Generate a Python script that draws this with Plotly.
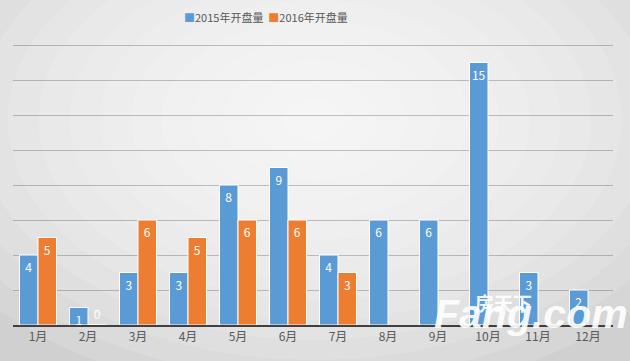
import plotly.graph_objects as go

months = ["1月", "2月", "3月", "4月", "5月", "6月", "7月", "8月", "9月", "10月", "11月", "12月"]
s2015 = [4, 1, 3, 3, 8, 9, 4, 6, 6, 15, 3, 2]
s2016 = [5, 0, 6, 5, 6, 6, 3, None, None, None, None, None]
names = ["2015年开盘量", "2016年开盘量"]
colors = ["#5B9BD5", "#ED7D31"]

W, H = 630, 361
L, R, T, B = 13, 17, 40, 36
pw, ph = W - L - R, H - T - B
YMAX = 16 * ph / 280.0

def px(x):
    return (x - L) / pw

def py(y):
    return (H - B - y) / ph

FONT = "Noto Sans CJK SC"

fig = go.Figure()
for name, vals, col in zip(names, [s2015, s2016], colors):
    pos = ["outside" if v == 0 else "inside" for v in vals]
    fig.add_trace(go.Bar(
        x=months, y=vals, name=name,
        marker=dict(color=col, line=dict(color="white", width=1)),
        text=[("" if v is None else str(v)) for v in vals],
        textposition=pos,
        insidetextanchor="end",
        constraintext="none",
        textangle=0,
        insidetextfont=dict(color="white", size=12, family=FONT),
        outsidetextfont=dict(color="white", size=12, family=FONT),
        cliponaxis=False,
        showlegend=False,
    ))

# background radial-ish gradient via stacked translucent ellipses
shapes = []
cx, cy = 315, 120
N = 14
for i in range(N):
    f = 1 - i / N
    rx, ry = 430 * f, 280 * f
    shapes.append(dict(type="circle", xref="paper", yref="paper", layer="below",
                       x0=px(cx - rx), x1=px(cx + rx), y0=py(cy + ry), y1=py(cy - ry),
                       fillcolor="rgba(255,255,255,0.13)", line=dict(width=0)))

legend_text = "  ".join(
    f"<span style='color:{c}'>■</span>{n}" for n, c in zip(names, colors)
)

fig.update_layout(
    width=W, height=H,
    margin=dict(l=L, r=R, t=T, b=B, autoexpand=False),
    paper_bgcolor="#d0d0d0",
    plot_bgcolor="rgba(0,0,0,0)",
    barmode="group", bargap=0.26, bargroupgap=0,
    font=dict(family=FONT, color="#595959", size=12),
    showlegend=False,
    xaxis=dict(showgrid=False, showline=True, linecolor="#404040", linewidth=2,
               ticks="", tickfont=dict(size=12, color="#595959"), fixedrange=True),
    yaxis=dict(range=[0, YMAX], tickvals=list(range(2, 17, 2)), showticklabels=False,
               gridcolor="rgba(0,0,0,0.22)", gridwidth=1, zeroline=False, showline=False),
    shapes=shapes,
    annotations=[
        dict(text=legend_text, xref="paper", yref="paper", x=px(266), y=py(17),
             xanchor="center", yanchor="middle", showarrow=False,
             font=dict(size=11, color="#595959", family=FONT)),
        dict(text="<b><i>Fang.com</i></b>", xref="paper", yref="paper", x=px(531), y=py(314),
             xanchor="center", yanchor="middle",
             showarrow=False, font=dict(size=41, color="rgba(255,255,255,0.92)", family="Liberation Sans")),
        dict(text="<b>房天下</b>", xref="paper", yref="paper", x=px(503), y=py(302),
             xanchor="center", yanchor="middle",
             showarrow=False, font=dict(size=19, color="rgba(255,255,255,0.92)", family=FONT)),
    ],
)

fig.write_html("out.html", config={"displayModeBar": False},
               post_script="document.body.style.margin='0';document.body.style.padding='0';")
